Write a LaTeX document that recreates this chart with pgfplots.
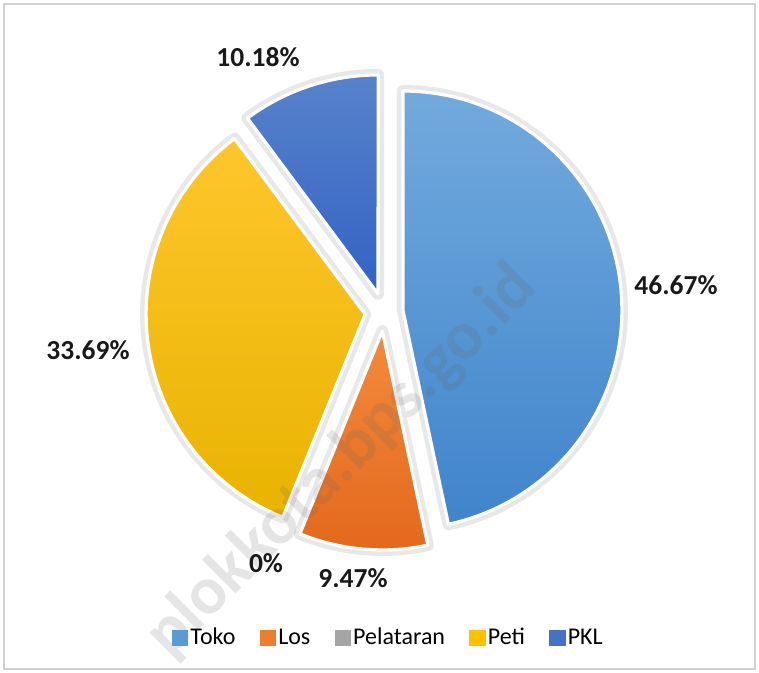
\documentclass[border=0pt]{standalone}
\usepackage{pgfplots}
\pgfplotsset{compat=1.18}
\usepackage{fontspec}
\setmainfont{Carlito}

\definecolor{tokoT}{HTML}{72AADD}
\definecolor{tokoB}{HTML}{4084CB}
\definecolor{tokoM}{HTML}{5B9BD5}
\definecolor{losT}{HTML}{F58D40}
\definecolor{losB}{HTML}{E2681C}
\definecolor{losM}{HTML}{ED7D31}
\definecolor{pelM}{HTML}{A5A5A5}
\definecolor{petiT}{HTML}{FFC62C}
\definecolor{petiB}{HTML}{E9B300}
\definecolor{petiM}{HTML}{FFC000}
\definecolor{pklT}{HTML}{5882CB}
\definecolor{pklB}{HTML}{2F60C3}
\definecolor{pklM}{HTML}{4472C4}

% shares in percent, clockwise from twelve o'clock
\def\vToko{46.67}
\def\vLos{9.47}
\def\vPel{0}
\def\vPeti{33.69}
\def\vPKL{10.18}

% pie centre (pixel coords), radius and explode distance
\def\pcx{384}
\def\pcy{312}
\def\pR{109.5pt}
\def\pD{9.5pt}

% #1 share before this slice, #2 share of slice, #3 path style
\newcommand\slice[3]{%
  \pgfmathsetmacro\aS{90-3.6*(#1)}%
  \pgfmathsetmacro\aE{90-3.6*((#1)+(#2))}%
  \pgfmathsetmacro\aM{(\aS+\aE)/2}%
  \path[#3] (axis cs:\pcx,\pcy) ++(\aM:\pD) -- ++(\aS:\pR)
    arc[start angle=\aS, end angle=\aE, radius=\pR] -- cycle;%
}

\begin{document}
\begin{tikzpicture}
\begin{axis}[
  hide axis,
  x=0.5pt, y=0.5pt,
  y dir=reverse,
  xmin=0, xmax=759, ymin=0, ymax=673,
  legend columns=5,
  legend image code/.code={\fill[#1] (0pt,-3.8pt) rectangle (7.6pt,3.8pt);},
  legend style={at={(0.512,0.052)}, anchor=center, draw=none, fill=none,
    font=\fontsize{12}{14}\selectfont, nodes={inner sep=1.2pt},
    /tikz/every even column/.append style={column sep=11pt}},
]
\addlegendimage{tokoM}
\addlegendimage{losM}
\addlegendimage{pelM}
\addlegendimage{petiM}
\addlegendimage{pklM}
\legend{Toko,Los,Pelataran,Peti,PKL}

\pgfplotsextra{
  \path (axis cs:0,0) rectangle (axis cs:759,673);
  \draw[black!18, line width=0.8pt] (axis cs:4,4) rectangle (axis cs:755,669);
  % soft glow
  \slice{0}{\vToko}{draw=black!9, line width=6pt, line join=round}
  \slice{\vToko}{\vLos}{draw=black!9, line width=6pt, line join=round}
  \slice{\vToko+\vLos+\vPel}{\vPeti}{draw=black!9, line width=6pt, line join=round}
  \slice{\vToko+\vLos+\vPel+\vPeti}{\vPKL}{draw=black!9, line width=6pt, line join=round}
  % slices
  \slice{0}{\vToko}{top color=tokoT, bottom color=tokoB, draw=white, line width=1.6pt, line join=round}
  \slice{\vToko}{\vLos}{top color=losT, bottom color=losB, draw=white, line width=1.6pt, line join=round}
  \slice{\vToko+\vLos+\vPel}{\vPeti}{top color=petiT, bottom color=petiB, draw=white, line width=1.6pt, line join=round}
  \slice{\vToko+\vLos+\vPel+\vPeti}{\vPKL}{top color=pklT, bottom color=pklB, draw=white, line width=1.6pt, line join=round}
  % watermark
  \node[overlay, rotate=45, text=black!60, opacity=0.17,
    font=\bfseries\fontsize{34}{38}\selectfont] at (axis cs:342,462) {plokkota.bps.go.id};
}

\tikzset{lbl/.style={font=\bfseries\fontsize{13.75}{16}\selectfont, text=black!90}}
\node[lbl] at (axis cs:676,285) {46.67\%};
\node[lbl] at (axis cs:353,578) {9.47\%};
\node[lbl] at (axis cs:266,563) {0\%};
\node[lbl] at (axis cs:88,350) {33.69\%};
\node[lbl] at (axis cs:258,57) {10.18\%};
\end{axis}
\end{tikzpicture}
\end{document}
